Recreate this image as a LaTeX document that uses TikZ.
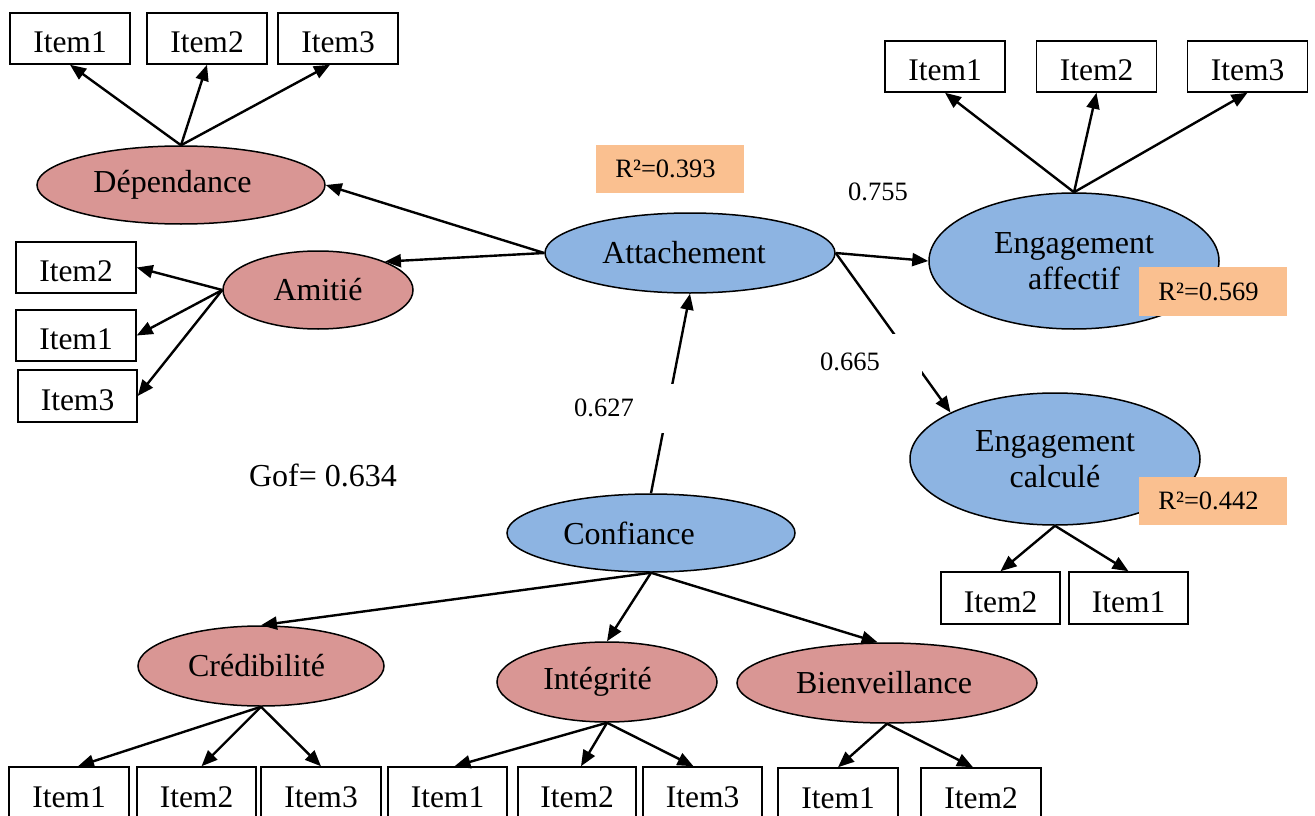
\documentclass[tikz,border=0pt]{standalone}
\usepackage{fontspec}
\setmainfont{Liberation Serif}
\usetikzlibrary{shapes.geometric,arrows.meta,calc}
\definecolor{latpink}{RGB}{217,150,148}
\definecolor{latblue}{RGB}{141,180,226}
\definecolor{rpeach}{RGB}{250,192,144}
\begin{document}
\begin{tikzpicture}[x=1pt,y=-1pt,
 item/.style={draw,line width=1.5pt,rectangle,minimum width=120pt,minimum height=51pt,inner sep=0pt,text height=28.5pt,text depth=0pt,font=\fontsize{31.5}{35}\selectfont},
 lowitem/.style={item,minimum height=52pt},
 lat/.style={ellipse,draw,line width=1.5pt,inner sep=0pt,font=\fontsize{32}{36}\selectfont,align=center},
 dimlat/.style={lat,fill=latpink},
 conslat/.style={lat,fill=latblue},
 rsq/.style={fill=rpeach,minimum width=148pt,minimum height=48pt,inner sep=0pt,font=\fontsize{26.5}{30}\selectfont},
 coef/.style={font=\fontsize{26.5}{30}\selectfont},
 link/.style={line width=2.4pt,-{Triangle[length=16pt,width=13pt]}}
]
\useasboundingbox (0,0) rectangle (1315,816);

% latent variables
\node[dimlat,minimum width=288pt,minimum height=78pt] (dep) at (181,185) {Dépendance\hspace*{17pt}};
\node[dimlat,minimum width=190pt,minimum height=78pt] (ami) at (318,290) {Amitié};
\node[conslat,minimum width=290pt,minimum height=80pt] (att) at (690,253) {Attachement\hspace*{12pt}};
\node[conslat,minimum width=290pt,minimum height=136pt] (ea) at (1074,261) {Engagement\\affectif};
\node[conslat,minimum width=290pt,minimum height=132pt] (ec) at (1055,459) {Engagement\\calculé};
\node[conslat,minimum width=288pt,minimum height=78pt] (conf) at (651,533) {Confiance\hspace*{44pt}};
\node[dimlat,minimum width=246pt,minimum height=80pt] (cred) at (261,666) {Crédibilité\hspace*{9pt}};
\node[dimlat,minimum width=220pt,minimum height=80pt] (integ) at (607,682) {Intégrité\hspace*{19pt}};
\node[dimlat,minimum width=300pt,minimum height=80pt] (bien) at (887,683) {Bienveillance\hspace*{6pt}};

% items
\node[item] (d1) at (70,38.5) {Item1};
\node[item] (d2) at (207,38.5) {Item2};
\node[item] (d3) at (338,38.5) {Item3};
\node[item] (a2) at (76,267.5) {Item2};
\node[item] (a1) at (76,335.5) {Item1};
\node[item,minimum width=119pt,minimum height=52pt] (a3) at (77.5,396) {Item3};
\node[item] (e1) at (945,66.5) {Item1};
\node[item] (e2) at (1096.5,66.5) {Item2};
\node[item] (e3) at (1247.5,66.5) {Item3};
\node[item,minimum width=119pt,minimum height=52pt] (c2) at (1000.5,598) {Item2};
\node[item,minimum width=119pt,minimum height=52pt] (c1) at (1128.5,598) {Item1};
\node[lowitem] (cr1) at (69,793) {Item1};
\node[lowitem,minimum width=119pt] (cr2) at (196.5,793) {Item2};
\node[lowitem] (cr3) at (321,793) {Item3};
\node[lowitem,minimum width=119pt] (in1) at (447.5,793) {Item1};
\node[lowitem,minimum width=118pt] (in2) at (577,793) {Item2};
\node[lowitem,minimum width=119pt] (in3) at (702.5,793) {Item3};
\node[lowitem] (bi1) at (838,794) {Item1};
\node[lowitem] (bi2) at (981,794) {Item2};

% structural paths
\draw[link] (att.west) -- (dep.east);
\draw[link] (att.west) -- (ami.23);
\draw[link] (att.east) -- (ea.west);
\draw[link] (att.east) -- (ec.156);
\draw[link] (conf.north) -- (att.south);
\draw[link] (conf.south) -- (cred.north);
\draw[link] (conf.south) -- (integ.north);
\draw[link] (conf.south) -- (bien.103);

% measurement paths
\draw[link] (dep.north) -- (d1.south);
\draw[link] (dep.north) -- (d2.south);
\draw[link] (dep.north) -- ($(d3.south)+(-8,0)$);
\draw[link] (ami.west) -- (a2.east);
\draw[link] (ami.west) -- (a1.east);
\draw[link] (ami.west) -- (a3.east);
\draw[link] (ea.north) -- (e1.south);
\draw[link] (ea.north) -- (e2.south);
\draw[link] (ea.north) -- (e3.south);
\draw[link] (ec.south) -- (c2.north);
\draw[link] (ec.south) -- (c1.north);
\draw[link] (cred.south) -- ($(cr1.north)+(9,0)$);
\draw[link] (cred.south) -- ($(cr2.north)+(5,0)$);
\draw[link] (cred.south) -- (cr3.north);
\draw[link] (integ.south) -- ($(in1.north)+(7,0)$);
\draw[link] (integ.south) -- ($(in2.north)+(4,0)$);
\draw[link] (integ.south) -- ($(in3.north)+(-9,0)$);
\draw[link] (bien.south) -- (bi1.north);
\draw[link] (bien.south) -- ($(bi2.north)+(-8,0)$);

% coefficient labels (white boxes mask the path)
\node[coef] (l755) at (878,192) {0.755};
\node[coef,fill=white,minimum width=144pt,minimum height=56pt,inner sep=0pt] (l665) at (850,362) {0.665};
\node[coef,fill=white,minimum width=144pt,minimum height=49pt,inner sep=0pt] (l627) at (604,408) {0.627};

% R squared
\node[rsq] (r1) at (670,169) {R²=0.393\hspace*{9pt}};
\node[rsq,minimum height=49pt] (r2) at (1213,291.5) {R²=0.569\hspace*{9pt}};
\node[rsq] (r3) at (1213,501) {R²=0.442\hspace*{9pt}};

\node[font=\fontsize{32}{36}\selectfont] (gof) at (323,475) {Gof= 0.634};
\end{tikzpicture}
\end{document}
